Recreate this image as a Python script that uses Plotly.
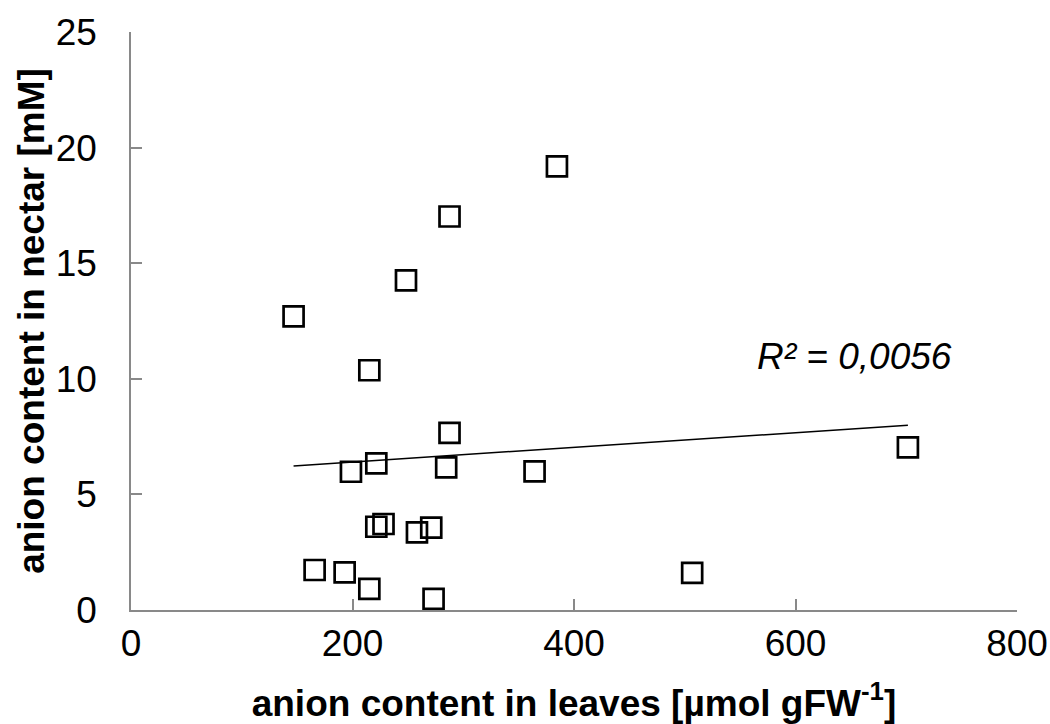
import numpy as np
import plotly.graph_objects as go

# anion content per sample: leaves (µmol gFW-1) vs. nectar (mM)
leaves = [146.8, 215.2, 287.6, 221.5, 198.6, 284.6, 364.4, 221.5, 228.0, 258.2,
          271.1, 165.8, 192.9, 215.2, 273.2, 287.6, 248.3, 384.6, 506.7, 701.5]
nectar = [12.70, 10.37, 7.66, 6.34, 5.98, 6.17, 6.00, 3.60, 3.72, 3.36,
          3.56, 1.73, 1.63, 0.91, 0.48, 17.02, 14.26, 19.19, 1.61, 7.03]

x_ticks = [0, 200, 400, 600, 800]
y_ticks = [0, 5, 10, 15, 20, 25]
r2_label = "R² = 0,0056"

FONT = "Liberation Sans, Arial, sans-serif"
AXIS_GREY = "#898989"

# linear least-squares trendline spanning the observed x-range
xs = np.array(leaves)
ys = np.array(nectar)
slope, intercept = np.polyfit(xs, ys, 1)
trend_x = np.array([xs.min(), xs.max()])
trend_y = slope * trend_x + intercept

fig = go.Figure()
fig.add_trace(go.Scatter(
    x=leaves, y=nectar, mode="markers",
    marker=dict(symbol="square-open", size=20, color="black",
                line=dict(width=2.7, color="black")),
    showlegend=False, hoverinfo="x+y",
))
fig.add_trace(go.Scatter(
    x=trend_x, y=trend_y, mode="lines",
    line=dict(color="black", width=1.5),
    showlegend=False, hoverinfo="skip",
))

fig.add_annotation(
    x=653, y=10.95, xref="x", yref="y", text=r2_label, showarrow=False,
    xanchor="center", yanchor="middle",
    font=dict(family=FONT, size=37, color="black", style="italic"),
)

axis_common = dict(
    showgrid=False, zeroline=False, showline=True, automargin=False,
    linecolor=AXIS_GREY, linewidth=1.5,
    ticks="inside", ticklen=11, tickwidth=1.5, tickcolor=AXIS_GREY,
    tickfont=dict(family=FONT, size=37, color="black"),
)

fig.update_xaxes(
    range=[0, 800], tickvals=x_ticks, ticklabelstandoff=0,
    title=dict(text="anion content in leaves [µmol gFW<sup>-1</sup>]",
               font=dict(family=FONT, size=37, color="black", weight="bold"),
               standoff=28),
    **axis_common,
)
fig.update_yaxes(
    range=[0, 25], tickvals=y_ticks, ticklabelstandoff=25,
    title=dict(text="anion content in nectar [mM]",
               font=dict(family=FONT, size=37, color="black", weight="bold"),
               standoff=0),
    **axis_common,
)

fig.update_layout(
    width=1050, height=724,
    margin=dict(l=131, r=33, t=32, b=114),
    paper_bgcolor="white", plot_bgcolor="white",
    font=dict(family=FONT, color="black"),
)

fig.write_html("out.html")
